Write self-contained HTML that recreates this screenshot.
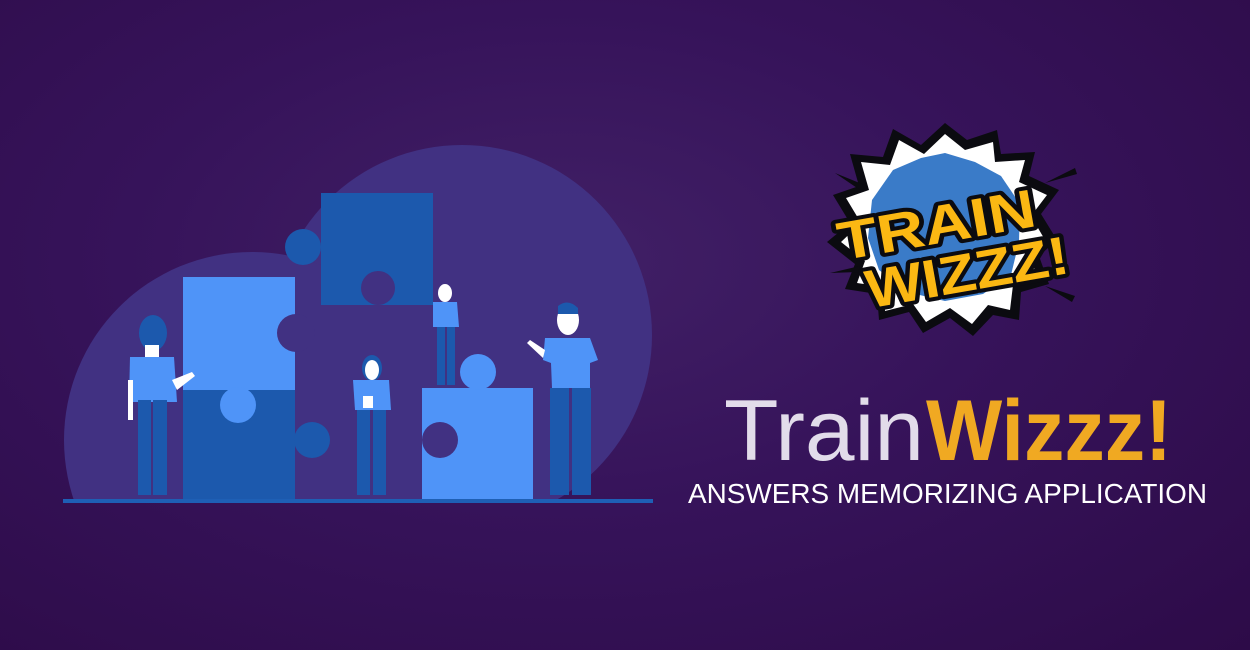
<!DOCTYPE html>
<html><head><meta charset="utf-8"><style>
html,body{margin:0;padding:0}
body{width:1250px;height:650px;overflow:hidden;background:radial-gradient(ellipse at 45% 40%,#412066 0%,#36135a 45%,#2d0b48 100%);}
svg{display:block}
</style></head><body>
<svg width="1250" height="650" viewBox="0 0 1250 650" xmlns="http://www.w3.org/2000/svg">
<defs><clipPath id="cl"><rect x="0" y="0" width="1250" height="501"/></clipPath></defs>
<g clip-path="url(#cl)" fill="#413182">
<circle cx="462" cy="335" r="190"/>
<circle cx="252" cy="440" r="188"/>
<rect x="250" y="300" width="300" height="210"/>
</g>
<g>
<rect x="183" y="277" width="112" height="113" fill="#4f94f8"/>
<circle cx="296" cy="333" r="19" fill="#413182"/>
<rect x="183" y="390" width="112" height="110" fill="#1c59ad"/>
<circle cx="238" cy="405" r="18" fill="#4f94f8"/>
<circle cx="312" cy="440" r="18" fill="#1c59ad"/>
<rect x="321" y="193" width="112" height="112" fill="#1c59ad"/>
<circle cx="303" cy="247" r="18" fill="#1c59ad"/>
<circle cx="378" cy="288" r="17" fill="#413182"/>
<rect x="422" y="388" width="111" height="112" fill="#4f94f8"/>
<circle cx="478" cy="372" r="18" fill="#4f94f8"/>
<circle cx="440" cy="440" r="18" fill="#413182"/>
</g>
<rect x="63" y="499" width="590" height="4" fill="#1e5fb5"/>
<!-- person 1 -->
<g>
<ellipse cx="153" cy="333" rx="14" ry="18" fill="#1c59ad"/>
<rect x="145" y="345" width="14" height="12" fill="#fff"/>
<path d="M130 357 h44 l3 45 h-48 z" fill="#4f94f8"/>
<rect x="138" y="400" width="13" height="95" fill="#1c59ad"/>
<rect x="153" y="400" width="14" height="95" fill="#1c59ad"/>
<path d="M172 380 l20 -8 l3 4 l-18 14z" fill="#fff"/>
<rect x="128" y="380" width="5" height="40" fill="#fff"/>
</g>
<!-- person 2 -->
<g>
<ellipse cx="372" cy="368" rx="10" ry="13" fill="#1c59ad"/>
<ellipse cx="372" cy="370" rx="7" ry="10" fill="#fff"/>
<path d="M353 380 h36 l2 30 h-36 z" fill="#4f94f8"/>
<rect x="357" y="410" width="13" height="85" fill="#1c59ad"/>
<rect x="373" y="410" width="13" height="85" fill="#1c59ad"/>
<rect x="363" y="396" width="10" height="12" fill="#fff"/>
</g>
<!-- person 3 -->
<g>
<ellipse cx="445" cy="293" rx="7" ry="9" fill="#fff"/>
<path d="M433 302 h24 l2 25 h-26 z" fill="#4f94f8"/>
<rect x="437" y="327" width="8" height="58" fill="#1c59ad"/>
<rect x="447" y="327" width="8" height="58" fill="#1c59ad"/>
</g>
<!-- person 4 -->
<g>
<ellipse cx="568" cy="320" rx="11" ry="15" fill="#fff"/>
<path d="M558 306 q10 -8 20 2 v6 h-20z" fill="#1c59ad"/>
<path d="M545 338 h45 l8 22 l-8 3 v25 h-38 l-1 -25 l-8 -3z" fill="#4f94f8"/>
<rect x="550" y="388" width="19" height="107" fill="#1c59ad"/>
<rect x="572" y="388" width="19" height="107" fill="#1c59ad"/>
<path d="M545 350 l-15 -10 l-3 3 l16 15z" fill="#fff"/>
</g>

<!-- logo -->
<g transform="translate(945,228)">
<polygon fill="#0b0b10" points="0,-105 22,-88 52,-98 56,-74 90,-76 84,-52 114,-38 96,-14 112,12 94,28 104,56 76,64 74,92 48,87 28,108 5,90 -22,105 -36,84 -66,92 -68,66 -100,61 -90,36 -118,14 -95,-5 -112,-33 -86,-42 -95,-74 -62,-71 -52,-99 -24,-83"/>
<polygon fill="#ffffff" points="0,-94 20,-78 48,-86 50,-66 80,-68 74,-46 102,-33 86,-12 100,12 84,26 93,51 68,57 65,82 43,77 27,96 5,80 -19,94 -32,76 -60,83 -61,59 -88,55 -80,33 -104,14 -84,-5 -99,-30 -76,-38 -84,-66 -55,-63 -46,-88 -21,-74"/>
<polygon fill="#3a7bc8" points="0,-75 30,-66 56,-52 75,-24 74,14 66,47 38,66 0,73 -38,64 -66,42 -77,10 -73,-28 -52,-58 -24,-70"/>
<g font-family="'Liberation Sans',sans-serif" font-weight="bold" fill="#fbb813" stroke="#0b0b10" stroke-width="8" stroke-linejoin="round" paint-order="stroke">
<text x="-8" y="14" font-size="54" text-anchor="middle" transform="rotate(-10)" textLength="200" lengthAdjust="spacingAndGlyphs">TRAIN</text>
<text x="14" y="66" font-size="54" text-anchor="middle" transform="rotate(-10)" textLength="205" lengthAdjust="spacingAndGlyphs">WIZZZ!</text>
</g>
<g fill="#0b0b10">
<polygon points="-110,-55 -78,-42 -82,-36"/>
<polygon points="100,-45 130,-60 132,-54"/>
<polygon points="100,58 130,68 127,74"/>
<polygon points="-115,45 -85,38 -87,44"/>
</g>
</g>

<text x="724" y="460" font-family="'Liberation Sans',sans-serif" font-size="86" fill="#e2dcea" textLength="200" lengthAdjust="spacingAndGlyphs">Train</text>
<text x="926" y="460" font-family="'Liberation Sans',sans-serif" font-weight="bold" font-size="86" fill="#f0a922" textLength="246" lengthAdjust="spacingAndGlyphs">Wizzz!</text>
<text x="688" y="503" font-family="'Liberation Sans',sans-serif" font-size="28" fill="#ffffff" textLength="519" lengthAdjust="spacingAndGlyphs">ANSWERS MEMORIZING APPLICATION</text>
</svg>
</body></html>
